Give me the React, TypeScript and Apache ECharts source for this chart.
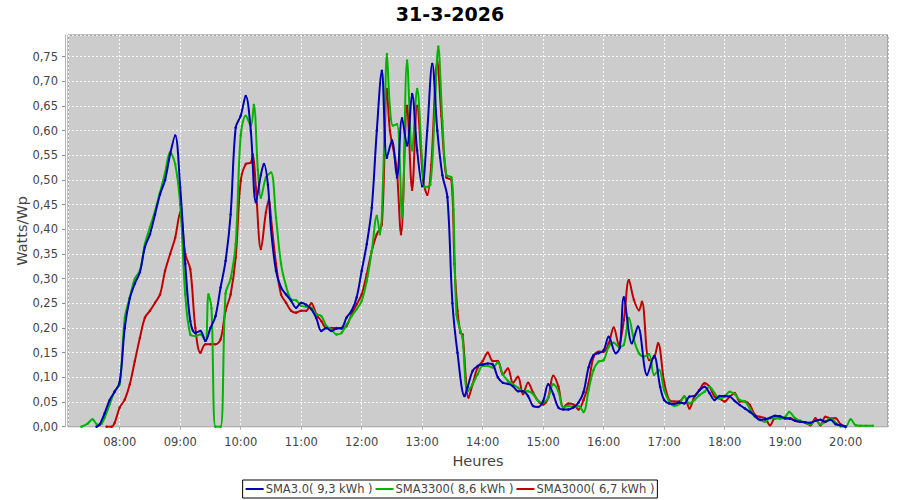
import React, { useEffect, useRef } from "react";
import * as echarts from "echarts";

const title = "31-3-2026";
const seriesNames = ["SMA3.0( 9,3 kWh )", "SMA3300( 8,6 kWh )", "SMA3000( 6,7 kWh )"];
const seriesColors = ["#0000b4", "#00b400", "#c00000"];

const blueTimes = ["07:37","07:40","07:45","07:50","07:55","08:00","08:05","08:10","08:15","08:20","08:25","08:30","08:35","08:40","08:45","08:50","08:55","09:00","09:05","09:10","09:15","09:20","09:25","09:30","09:35","09:40","09:45","09:50","09:55","10:00","10:05","10:10","10:15","10:20","10:23","10:27","10:30","10:35","10:40","10:45","10:50","10:55","11:00","11:05","11:10","11:15","11:20","11:25","11:30","11:35","11:40","11:45","11:50","11:55","12:00","12:05","12:10","12:15","12:20","12:25","12:30","12:35","12:40","12:45","12:50","12:55","13:00","13:05","13:10","13:15","13:20","13:25","13:30","13:35","13:42","13:45","13:50","13:55","14:00","14:05","14:10","14:15","14:20","14:25","14:30","14:35","14:40","14:45","14:50","14:55","15:00","15:05","15:10","15:15","15:20","15:25","15:30","15:35","15:40","15:45","15:50","15:55","16:00","16:05","16:12","16:16","16:20","16:28","16:34","16:43","16:50","16:56","17:00","17:05","17:10","17:15","17:20","17:25","17:30","17:35","17:40","17:45","17:50","17:55","18:00","18:05","18:10","18:15","18:20","18:25","18:30","18:35","18:40","18:45","18:50","18:55","19:00","19:05","19:10","19:15","19:20","19:25","19:30","19:35","19:40","19:45","19:50","19:55","20:00"];
const blueValues = [0,0.004,0.027,0.054,0.071,0.091,0.2,0.26,0.29,0.313,0.364,0.39,0.43,0.471,0.5,0.552,0.59,0.485,0.33,0.214,0.19,0.194,0.174,0.2,0.224,0.282,0.336,0.43,0.606,0.63,0.67,0.6,0.455,0.51,0.532,0.49,0.4,0.316,0.282,0.268,0.255,0.241,0.251,0.247,0.238,0.22,0.194,0.2,0.194,0.199,0.2,0.221,0.235,0.262,0.316,0.37,0.444,0.6,0.721,0.545,0.58,0.505,0.625,0.57,0.674,0.56,0.487,0.6,0.735,0.6,0.51,0.465,0.25,0.15,0.062,0.08,0.113,0.123,0.126,0.128,0.126,0.1,0.089,0.087,0.082,0.072,0.072,0.062,0.042,0.04,0.052,0.086,0.066,0.039,0.035,0.035,0.039,0.049,0.07,0.12,0.145,0.149,0.155,0.182,0.149,0.16,0.262,0.169,0.203,0.105,0.143,0.081,0.054,0.047,0.046,0.049,0.047,0.061,0.062,0.074,0.081,0.068,0.054,0.062,0.062,0.061,0.052,0.044,0.037,0.03,0.022,0.014,0.015,0.018,0.022,0.021,0.017,0.016,0.012,0.01,0.009,0.008,0.012,0.014,0.01,0.014,0.005,0.003,0];

const greenTimes = ["07:22","07:28","07:33","07:38","07:42","07:45","07:50","07:55","08:00","08:05","08:10","08:15","08:20","08:25","08:30","08:35","08:40","08:45","08:50","08:55","09:00","09:05","09:10","09:15","09:20","09:25","09:28","09:31","09:35","09:40","09:45","09:50","09:55","10:00","10:05","10:10","10:13","10:17","10:20","10:25","10:30","10:35","10:40","10:45","10:50","10:55","11:00","11:05","11:10","11:15","11:20","11:25","11:30","11:35","11:40","11:45","11:50","11:55","12:00","12:05","12:10","12:15","12:18","12:22","12:25","12:28","12:31","12:35","12:40","12:45","12:50","12:55","13:00","13:03","13:08","13:12","13:16","13:20","13:24","13:29","13:31","13:34","13:38","13:40","13:45","13:50","13:55","14:00","14:05","14:10","14:15","14:20","14:25","14:30","14:35","14:40","14:45","14:50","14:55","15:00","15:05","15:10","15:15","15:20","15:25","15:30","15:35","15:40","15:45","15:50","15:55","16:00","16:05","16:10","16:15","16:20","16:25","16:30","16:35","16:40","16:45","16:50","16:55","17:00","17:05","17:10","17:15","17:20","17:25","17:30","17:35","17:40","17:45","17:50","17:55","18:00","18:05","18:10","18:15","18:20","18:25","18:30","18:35","18:40","18:45","18:50","18:55","19:00","19:04","19:10","19:15","19:20","19:25","19:30","19:35","19:40","19:45","19:50","19:55","20:00","20:05","20:10","20:15","20:20","20:27"];
const greenValues = [0,0.006,0.015,0.004,0.006,0.018,0.045,0.072,0.086,0.22,0.262,0.3,0.316,0.37,0.404,0.437,0.475,0.515,0.556,0.532,0.45,0.268,0.187,0.184,0.187,0.174,0.268,0.24,0,0,0.27,0.3,0.37,0.59,0.63,0.61,0.652,0.52,0.464,0.505,0.515,0.424,0.33,0.285,0.258,0.256,0.245,0.243,0.241,0.228,0.224,0.204,0.197,0.187,0.19,0.207,0.224,0.238,0.255,0.295,0.356,0.427,0.39,0.55,0.755,0.647,0.61,0.613,0.424,0.742,0.56,0.684,0.54,0.485,0.49,0.62,0.77,0.62,0.51,0.505,0.44,0.228,0.194,0.18,0.072,0.086,0.106,0.123,0.123,0.12,0.13,0.106,0.093,0.086,0.079,0.072,0.072,0.066,0.052,0.049,0.059,0.086,0.072,0.039,0.042,0.04,0.042,0.03,0.074,0.115,0.132,0.135,0.162,0.17,0.162,0.166,0.22,0.176,0.149,0.142,0.147,0.105,0.115,0.074,0.051,0.042,0.046,0.061,0.047,0.054,0.064,0.071,0.081,0.068,0.057,0.061,0.071,0.066,0.054,0.051,0.037,0.02,0.0135,0.01,0.017,0.017,0.017,0.02,0.03,0.017,0.012,0.008,0.005,0.0135,0.005,0.01,0.017,0.008,0.001,0,0.015,0.003,0.002,0.002,0.002];

const redTimes = ["07:47","07:52","07:55","08:00","08:05","08:10","08:15","08:20","08:25","08:30","08:35","08:40","08:45","08:50","08:55","09:00","09:05","09:10","09:15","09:20","09:25","09:30","09:35","09:40","09:45","09:50","09:55","10:00","10:05","10:10","10:12","10:15","10:20","10:25","10:28","10:30","10:35","10:40","10:45","10:50","10:55","11:00","11:05","11:10","11:15","11:20","11:25","11:30","11:35","11:40","11:45","11:50","11:55","12:00","12:05","12:10","12:15","12:20","12:25","12:28","12:33","12:35","12:39","12:45","12:50","12:55","13:01","13:05","13:09","13:15","13:19","13:24","13:29","13:32","13:35","13:38","13:40","13:46","13:50","13:55","14:00","14:05","14:10","14:15","14:20","14:25","14:30","14:35","14:40","14:45","14:50","14:55","15:00","15:05","15:10","15:15","15:20","15:25","15:30","15:35","15:40","15:45","15:50","15:55","16:00","16:05","16:10","16:15","16:20","16:25","16:30","16:35","16:38","16:45","16:50","16:54","17:00","17:05","17:10","17:15","17:20","17:25","17:30","17:35","17:40","17:45","17:50","17:55","18:00","18:05","18:10","18:15","18:20","18:25","18:30","18:35","18:40","18:45","18:50","18:55","19:00","19:05","19:10","19:15","19:20","19:25","19:30","19:35","19:40","19:45","19:50","19:55","20:00"];
const redValues = [0,0,0.008,0.039,0.055,0.086,0.133,0.18,0.221,0.235,0.251,0.268,0.316,0.35,0.383,0.434,0.35,0.319,0.2,0.15,0.167,0.167,0.167,0.177,0.235,0.268,0.343,0.498,0.532,0.535,0.552,0.485,0.36,0.434,0.46,0.424,0.33,0.268,0.251,0.235,0.231,0.235,0.235,0.25,0.228,0.214,0.2,0.2,0.2,0.199,0.204,0.228,0.248,0.268,0.309,0.356,0.39,0.41,0.684,0.6,0.545,0.518,0.39,0.65,0.48,0.65,0.5,0.47,0.53,0.74,0.63,0.505,0.5,0.33,0.235,0.19,0.187,0.059,0.086,0.12,0.133,0.15,0.133,0.133,0.106,0.118,0.089,0.101,0.066,0.089,0.069,0.052,0.045,0.059,0.103,0.082,0.039,0.047,0.045,0.035,0.054,0.088,0.142,0.152,0.152,0.169,0.201,0.166,0.216,0.297,0.257,0.236,0.253,0.135,0.14,0.169,0.09,0.054,0.051,0.051,0.061,0.037,0.061,0.074,0.088,0.081,0.061,0.057,0.051,0.061,0.068,0.051,0.051,0.044,0.024,0.02,0.017,0.003,0.017,0.017,0.017,0.017,0.012,0.01,0.008,0.003,0.017,0.003,0.02,0.017,0.017,0.005,0.001];

const xMinTime = "07:08:42";
const xMaxTime = "20:42:00";
const yMax = 0.7936;

const toTs = (s: string) => {
  const p = s.split(":").map(Number);
  return new Date(2026, 2, 31, p[0], p[1], p[2] || 0).getTime();
};

export default function App() {
  const ref = useRef<HTMLDivElement>(null);
  useEffect(() => {
    if (!ref.current) return;
    const chart = echarts.init(ref.current, undefined, { renderer: "svg" });
    const mk = (times: string[], vals: number[]) => times.map((t, i) => [toTs(t), vals[i]]);
    const datasets = [mk(blueTimes, blueValues), mk(greenTimes, greenValues), mk(redTimes, redValues)];
    const font = "DejaVu Sans";
    chart.setOption({
      animation: false,
      backgroundColor: "#ffffff",
      title: {
        text: title,
        left: "center",
        top: -1,
        textStyle: { fontFamily: font, fontSize: 19, fontWeight: "bold", color: "#000" },
      },
      legend: {
        bottom: 2,
        left: "center",
        data: seriesNames,
        icon: "rect",
        itemWidth: 18,
        itemHeight: 2,
        itemGap: 3,
        padding: [3, 3, 3, 3],
        borderColor: "#000",
        borderWidth: 1,
        borderRadius: 0,
        textStyle: { fontFamily: font, fontSize: 11.5, color: "#444", padding: [0, 0, 0, -3] },
      },
      grid: {
        left: 68,
        right: 12,
        top: 35,
        bottom: 73.3,
        show: true,
        backgroundColor: "#cccccc",
        borderColor: "#808080",
        borderWidth: 1,
      },
      xAxis: {
        type: "time",
        min: toTs(xMinTime),
        max: toTs(xMaxTime),
        minInterval: 3600000,
        maxInterval: 3600000,
        offset: 3,
        name: "Heures",
        nameLocation: "middle",
        nameGap: 24,
        nameMoveOverlap: false,
        nameTextStyle: { fontFamily: font, fontSize: 14.5, color: "#444" },
        axisLine: { show: true, lineStyle: { color: "#b0b0b0" } },
        axisTick: { show: true, length: 3, lineStyle: { color: "#b0b0b0" } },
        axisLabel: {
          formatter: "{HH}:{mm}",
          fontFamily: font,
          fontSize: 11.5,
          color: "#444",
          margin: 6,
          showMinLabel: false,
          showMaxLabel: false,
        },
        splitLine: { show: true, lineStyle: { color: "#ffffff", type: [2, 2], width: 1, opacity: 0.85 } },
      },
      yAxis: {
        type: "value",
        min: 0,
        max: yMax,
        interval: 0.05,
        offset: 3,
        name: "Watts/Wp",
        nameLocation: "middle",
        nameGap: 36,
        nameMoveOverlap: false,
        nameTextStyle: { fontFamily: font, fontSize: 14.5, color: "#444" },
        axisLine: { show: true, lineStyle: { color: "#b0b0b0" } },
        axisTick: { show: true, length: 3, lineStyle: { color: "#909090" } },
        axisLabel: {
          fontFamily: font,
          fontSize: 11.5,
          color: "#444",
          margin: 7,
          showMaxLabel: false,
          formatter: (v: number) => (v > 0.77 ? "" : v.toFixed(2).replace(".", ",")),
        },
        splitLine: { show: true, lineStyle: { color: "#ffffff", type: [2, 2], width: 1, opacity: 0.85 } },
      },
      series: datasets.map((d, i) => ({
        name: seriesNames[i],
        type: "line",
        data: d,
        smooth: 0.35,
        symbol: "circle",
        symbolSize: 2.5,
        showSymbol: true,
        lineStyle: { width: 2, color: seriesColors[i] },
        itemStyle: { color: seriesColors[i] },
        z: 3 - i,
      })),
    });
    return () => chart.dispose();
  }, []);
  return (
    <div
      ref={ref}
      style={{ position: "fixed", left: 0, top: 0, width: 900, height: 500 }}
    />
  );
}
